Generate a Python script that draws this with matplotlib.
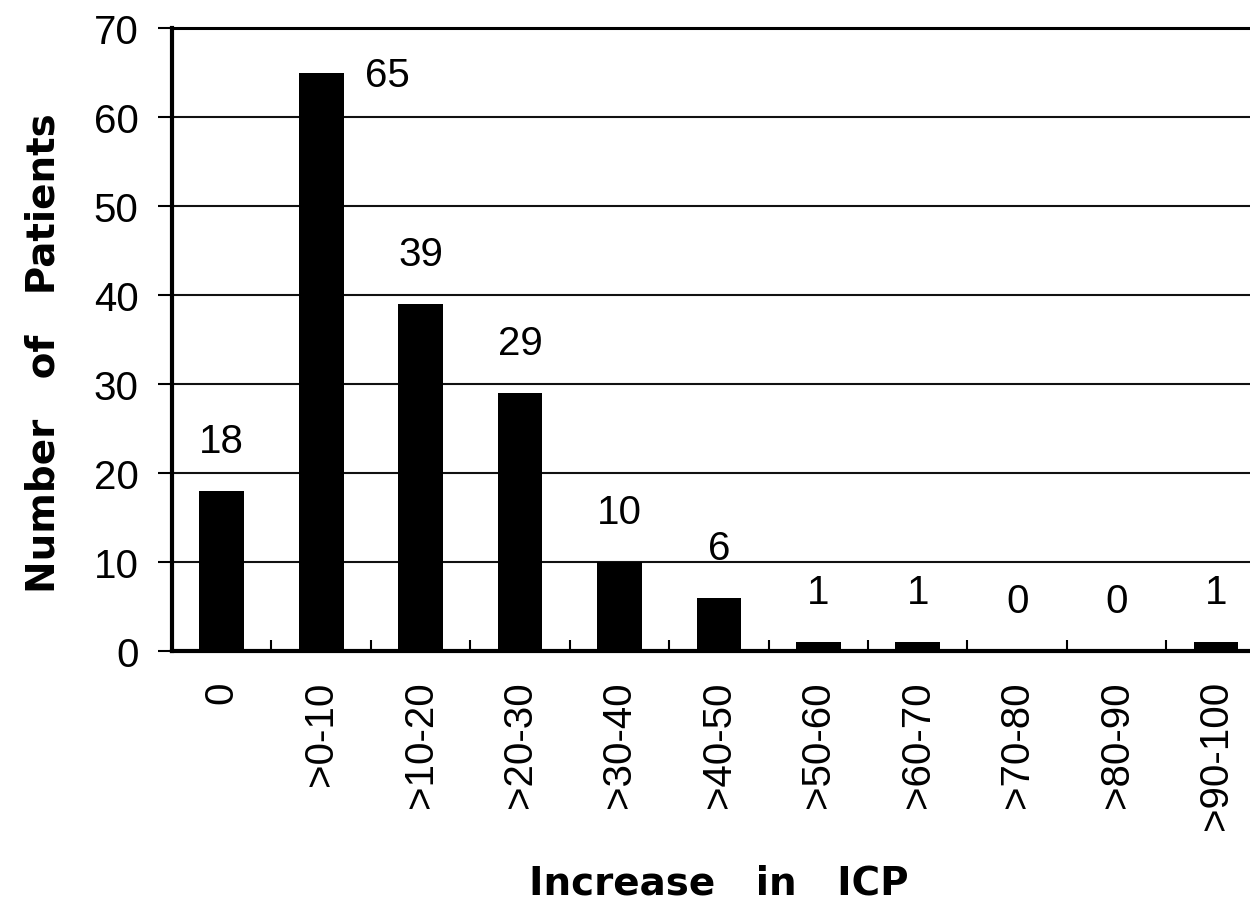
import matplotlib
matplotlib.use("Agg")
import matplotlib.pyplot as plt
import numpy as np

categories = ["0", ">0-10", ">10-20", ">20-30", ">30-40", ">40-50",
              ">50-60", ">60-70", ">70-80", ">80-90", ">90-100"]
patients = [18, 65, 39, 29, 10, 6, 1, 1, 0, 0, 1]
y_ticks = [0, 10, 20, 30, 40, 50, 60, 70]

plt.rcParams['font.family'] = ['Liberation Sans', 'DejaVu Sans']

fig = plt.figure(figsize=(12.5, 9.04), dpi=100)
ax = fig.add_axes([0.1376, 0.2788, 0.875, 0.689])

x = np.arange(len(categories))
bar_w = 0.45
ax.bar(x, patients, width=bar_w, color='black', zorder=3)

ax.set_xlim(-0.5, len(categories) - 0.5)
ax.set_ylim(0, 70)
ax.set_yticks(y_ticks)
ax.yaxis.grid(True, color='#111111', linewidth=1.5, zorder=1)
ax.set_axisbelow(True)

ax.tick_params(axis='y', labelsize=29, length=10, width=1.5, pad=14, direction='out')
ax.set_xticks(x)
ax.set_xticklabels(categories, rotation=90, fontsize=29)
ax.tick_params(axis='x', length=0, pad=21)
ax.set_xticks(np.arange(0.5, len(categories) - 1, 1.0), minor=True)
ax.tick_params(axis='x', which='minor', direction='in', length=8, width=1.5)

for side in ['left', 'top', 'bottom']:
    ax.spines[side].set_color('black')
ax.spines['left'].set_linewidth(3)
ax.spines['bottom'].set_linewidth(3)
ax.spines['top'].set_linewidth(2.2)
ax.spines['right'].set_visible(False)

# value annotations: the tallest bar gets its label beside it
for xi, v in zip(x, patients):
    if v == max(patients):
        ax.text(xi + bar_w / 2 + 0.22, v - 0.3, str(v),
                ha='left', va='center', fontsize=29)
    else:
        ax.text(xi, v + 5.6, str(v), ha='center', va='center', fontsize=29)

label_font = dict(family='DejaVu Sans', fontsize=28, fontweight='bold')
ax.set_ylabel("Number   of   Patients", **label_font)
ax.set_xlabel("Increase   in   ICP", **label_font)
ax.yaxis.set_label_coords(-0.100, 0.48)
ax.xaxis.set_label_coords(0.5, -0.342)

fig.savefig("out.png", dpi=100)
